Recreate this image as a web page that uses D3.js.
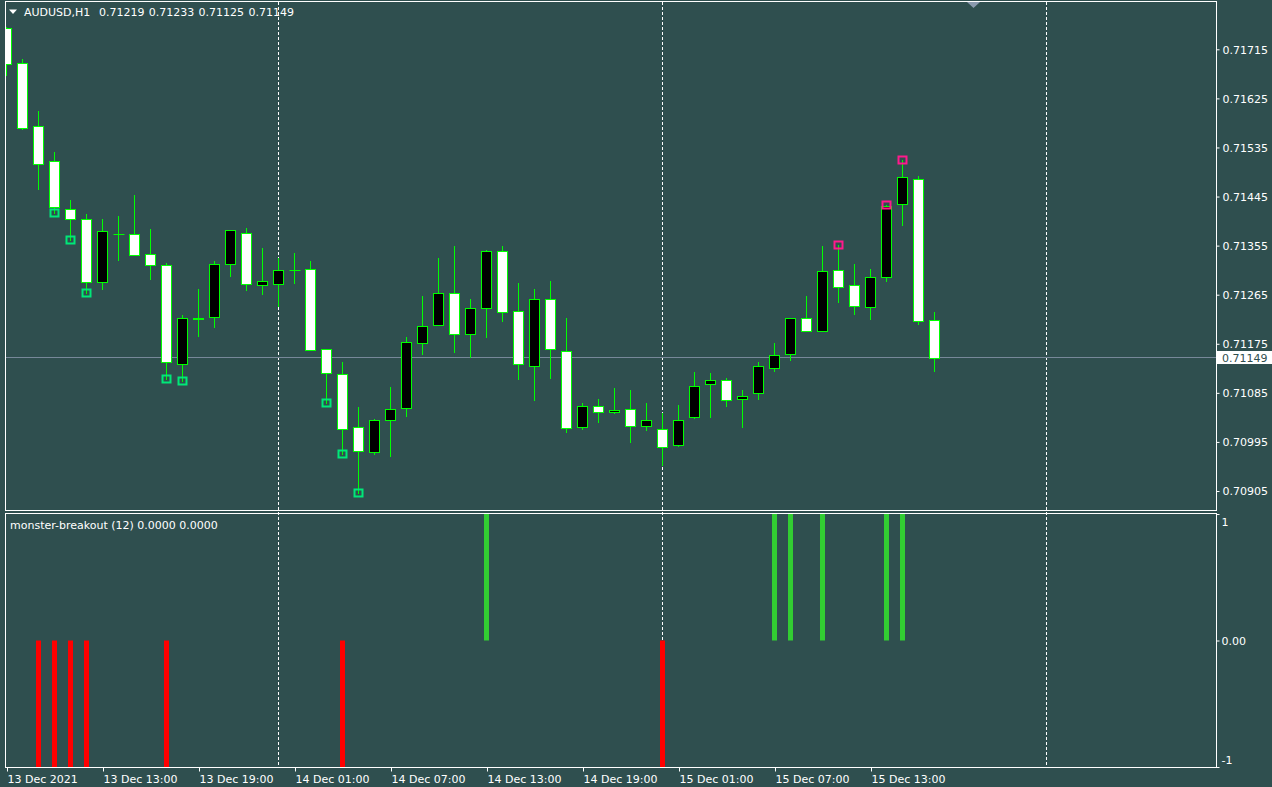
<!DOCTYPE html>
<html><head><meta charset="utf-8">
<script src="https://cdn.jsdelivr.net/npm/d3@7"></script>
<style>
html,body{margin:0;padding:0;background:#2F4F4F;overflow:hidden}
svg{display:block;font-family:"DejaVu Sans",sans-serif;font-size:11px}
</style>
</head><body>
<svg id="c" width="1272" height="787"></svg>
<script>
// ---------- data ----------
const symbolLabel = "AUDUSD,H1";
const headerValues = ["0.71219", "0.71233", "0.71125", "0.71149"];
const indicatorLabel = "monster-breakout (12) 0.0000 0.0000";

const opens = [0.71754,0.71689,0.71574,0.71511,0.71423,0.71403,0.71288,0.71376,0.71376,0.71339,
 0.71319,0.71137,0.71223,0.71225,0.71321,0.71378,0.71282,0.71285,0.71309,0.71313,
 0.71165,0.71119,0.71022,0.70976,0.71035,0.71058,0.71176,0.71209,0.71269,0.71192,
 0.71240,0.71346,0.71235,0.71135,0.71257,0.71161,0.71022,0.71060,0.71049,0.71055,
 0.71024,0.71018,0.70989,0.71040,0.71101,0.71108,0.71073,0.71084,0.71130,0.71157,
 0.71222,0.71198,0.71310,0.71282,0.71242,0.71297,0.71431,0.71478,0.71219];
const highs = [0.71756,0.71697,0.71602,0.71527,0.71439,0.71413,0.71404,0.71409,0.71448,0.71385,
 0.71323,0.71228,0.71275,0.71327,0.71384,0.71387,0.71351,0.71332,0.71341,0.71327,
 0.71165,0.71141,0.71059,0.71037,0.71096,0.71187,0.71263,0.71332,0.71354,0.71257,
 0.71347,0.71354,0.71286,0.71275,0.71290,0.71222,0.71066,0.71074,0.71094,0.71090,
 0.71066,0.71048,0.71062,0.71123,0.71121,0.71112,0.71091,0.71141,0.71176,0.71223,
 0.71263,0.71354,0.71356,0.71322,0.71312,0.71429,0.71512,0.71482,0.71233];
const lows = [0.71667,0.71568,0.71459,0.71415,0.71365,0.71268,0.71276,0.71329,0.71337,0.71294,
 0.71110,0.71107,0.71190,0.71206,0.71300,0.71274,0.71267,0.71245,0.71287,0.71163,
 0.71066,0.70973,0.70901,0.70973,0.70970,0.71043,0.71157,0.71209,0.71160,0.71151,
 0.71188,0.71217,0.71111,0.71071,0.71113,0.71014,0.71018,0.71032,0.71048,0.70994,
 0.71016,0.70952,0.70988,0.71038,0.71041,0.71060,0.71023,0.71073,0.71125,0.71146,
 0.71198,0.71198,0.71252,0.71229,0.71220,0.71291,0.71392,0.71212,0.71125];
const closes = [0.71688,0.71570,0.71504,0.71425,0.71403,0.71288,0.71381,0.71376,0.71337,0.71319,
 0.71141,0.71223,0.71220,0.71322,0.71383,0.71284,0.71290,0.71310,0.71309,0.71163,
 0.71121,0.71018,0.70978,0.71035,0.71055,0.71178,0.71207,0.71269,0.71192,0.71240,
 0.71345,0.71233,0.71137,0.71258,0.71165,0.71020,0.71060,0.71049,0.71053,0.71024,
 0.71036,0.70985,0.71036,0.71097,0.71108,0.71071,0.71080,0.71134,0.71154,0.71223,
 0.71198,0.71308,0.71280,0.71244,0.71297,0.71427,0.71480,0.71216,0.71149];
const signal = [0,0,-1,-1,-1,-1,0,0,0,0,
 -1,0,0,0,0,0,0,0,0,0,
 0,-1,0,0,0,0,0,0,0,0,
 1,0,0,0,0,0,0,0,0,0,
 0,-1,0,0,0,0,0,0,1,1,
 0,1,0,0,0,1,1,0,0];
const lowMarkIdx = [3,4,5,10,11,20,21,22];
const highMarkIdx = [52,55,56];
const priceTicks = [0.70905,0.70995,0.71085,0.71175,0.71265,0.71355,0.71445,0.71535,0.71625,0.71715];
const timeTickIdx = [0,6,12,18,24,30,36,42,48,54];
const timeTickLabels = ["13 Dec 2021","13 Dec 13:00","13 Dec 19:00","14 Dec 01:00","14 Dec 07:00",
 "14 Dec 13:00","14 Dec 19:00","15 Dec 01:00","15 Dec 07:00","15 Dec 13:00"];
const separatorIdx = [17,41,65];
const indTicks = [-1,0,1];
const indTickLabels = ["-1","0.00","1"];
const lastPrice = 0.71149;

// ---------- layout ----------
const BG = "#2F4F4F";
const L = 5.5, R = 1216.5, T1 = 1.5, B1 = 510.5, T2 = 513.5, B2 = 767.5;
const svg = d3.select("#c");
svg.append("rect").attr("width",1272).attr("height",787).attr("fill",BG);

const x = d3.scaleLinear().domain([0,1]).range([6.5,22.5]);
const y = d3.scaleLinear().domain([0.70905,0.71715]).range([491,49.3]);
const yi = d3.scaleLinear().domain([-1,1]).range([767,514]);
const crisp = v => Math.round(v - 0.5) + 0.5;

svg.append("clipPath").attr("id","cp1").append("rect")
  .attr("x",6).attr("y",2).attr("width",R-6).attr("height",B1-2);
svg.append("clipPath").attr("id","cp2").append("rect")
  .attr("x",6).attr("y",T2+0.5).attr("width",R-6).attr("height",B2-T2-1);

// separators (dashed)
svg.append("g").selectAll("line").data(separatorIdx).join("line")
  .attr("x1",d=>crisp(x(d))).attr("x2",d=>crisp(x(d)))
  .attr("y1",2).attr("y2",767)
  .attr("stroke","#ffffff").attr("stroke-width",1).attr("stroke-dasharray","3,2");

// ---------- main panel ----------
const g1 = svg.append("g").attr("clip-path","url(#cp1)");
// current price line
g1.append("line").attr("x1",L).attr("x2",R)
  .attr("y1",crisp(y(lastPrice))).attr("y2",crisp(y(lastPrice)))
  .attr("stroke","#778899").attr("stroke-width",1);

const idx = d3.range(opens.length);
// wicks
g1.append("g").selectAll("line").data(idx).join("line")
  .attr("x1",i=>crisp(x(i))).attr("x2",i=>crisp(x(i)))
  .attr("y1",i=>Math.round(y(highs[i]))).attr("y2",i=>Math.round(y(lows[i]))+1)
  .attr("stroke","#00FF00").attr("stroke-width",1);
// bodies
const bodies = idx.filter(i => Math.abs(Math.round(y(opens[i])) - Math.round(y(closes[i]))) >= 1);
g1.append("g").selectAll("rect").data(bodies).join("rect")
  .attr("x",i=>crisp(x(i))-5).attr("width",10)
  .attr("y",i=>Math.round(y(Math.max(opens[i],closes[i])))+0.5)
  .attr("height",i=>Math.round(y(Math.min(opens[i],closes[i])))-Math.round(y(Math.max(opens[i],closes[i]))))
  .attr("fill",i=>closes[i]>=opens[i]?"#000000":"#ffffff")
  .attr("stroke","#00FF00").attr("stroke-width",1);
// dojis
const dojis = idx.filter(i => !bodies.includes(i));
g1.append("g").selectAll("line").data(dojis).join("line")
  .attr("x1",i=>crisp(x(i))-5).attr("x2",i=>crisp(x(i))+6)
  .attr("y1",i=>crisp(y(closes[i]))).attr("y2",i=>crisp(y(closes[i])))
  .attr("stroke","#00FF00").attr("stroke-width",1);
// markers
g1.append("g").selectAll("rect").data(lowMarkIdx).join("rect")
  .attr("x",i=>crisp(x(i))-4).attr("y",i=>Math.round(y(lows[i]))-3.5)
  .attr("width",8).attr("height",7)
  .attr("fill","none").attr("stroke","#00E878").attr("stroke-width",2);
g1.append("g").selectAll("rect").data(highMarkIdx).join("rect")
  .attr("x",i=>crisp(x(i))-4).attr("y",i=>Math.round(y(highs[i]))-3.5)
  .attr("width",8).attr("height",7)
  .attr("fill","none").attr("stroke","#FF1A8C").attr("stroke-width",2);

// header
svg.append("path").attr("d","M9,9.5L17,9.5L13,14Z").attr("fill","#ffffff");
const hdr = svg.append("g").attr("fill","#ffffff");
hdr.append("text").attr("x",24).attr("y",16).text(symbolLabel);
hdr.selectAll("text.v").data(headerValues).join("text").attr("class","v")
  .attr("x",(d,i)=>99+i*49.8).attr("y",16).text(d=>d);
// shift marker
svg.append("path").attr("d","M967,2L980,2L973.5,8Z").attr("fill","#8A9AAE");

// price axis
const ax1 = svg.append("g").attr("transform",`translate(${R},0)`)
  .call(d3.axisRight(y).tickValues(priceTicks).tickSize(3).tickPadding(3).tickFormat(d3.format(".5f")));
ax1.select(".domain").remove();
ax1.selectAll("line").attr("stroke","#ffffff");
ax1.selectAll("text").attr("fill","#ffffff").attr("font-family","DejaVu Sans").attr("font-size",11).attr("dy","0.36em");
// current price box
svg.append("rect").attr("x",1217).attr("y",crisp(y(lastPrice))-6.5).attr("width",55).attr("height",13).attr("fill","#ffffff");
svg.append("text").attr("x",1222).attr("y",y(lastPrice)+4).attr("fill",BG).text(d3.format(".5f")(lastPrice));

// ---------- indicator panel ----------
const g2 = svg.append("g").attr("clip-path","url(#cp2)");
const sig = idx.filter(i => signal[i] !== 0);
g2.append("g").selectAll("rect").data(sig).join("rect")
  .attr("x",i=>crisp(x(i))-2.5).attr("width",5)
  .attr("y",i=>signal[i]>0?yi(1):yi(0))
  .attr("height",i=>signal[i]>0?yi(0)-yi(1):yi(-1)-yi(0))
  .attr("fill",i=>signal[i]>0?"#32CD32":"#FF0000");
svg.append("text").attr("x",10).attr("y",529).attr("fill","#ffffff").text(indicatorLabel);

const ax2 = svg.append("g").attr("transform",`translate(${R},0)`)
  .call(d3.axisRight(yi).tickValues(indTicks).tickSize(3).tickPadding(2).tickFormat((d,i)=>indTickLabels[i]));
ax2.select(".domain").remove();
ax2.selectAll("line").attr("stroke","#ffffff");
ax2.selectAll("text").attr("fill","#ffffff").attr("font-family","DejaVu Sans").attr("font-size",11)
  .attr("dy",d=>d===1?"1.0em":d===-1?"-0.3em":"0.36em");

// time axis
const ax3 = svg.append("g").attr("transform",`translate(0,${B2})`)
  .call(d3.axisBottom(x).tickValues(timeTickIdx).tickSize(4).tickFormat((d,i)=>timeTickLabels[i]));
ax3.select(".domain").remove();
ax3.selectAll("line").attr("stroke","#ffffff").attr("transform","translate(0.5,0)");
ax3.selectAll("text").attr("fill","#ffffff").attr("font-family","DejaVu Sans").attr("font-size",11)
  .attr("text-anchor","start").attr("x",0.5).attr("y",15.5).attr("dy",0);

// panel borders
svg.append("rect").attr("x",L).attr("y",T1).attr("width",R-L).attr("height",B1-T1)
  .attr("fill","none").attr("stroke","#ffffff").attr("stroke-width",1);
svg.append("rect").attr("x",L).attr("y",T2).attr("width",R-L).attr("height",B2-T2)
  .attr("fill","none").attr("stroke","#ffffff").attr("stroke-width",1);
</script>
</body></html>
